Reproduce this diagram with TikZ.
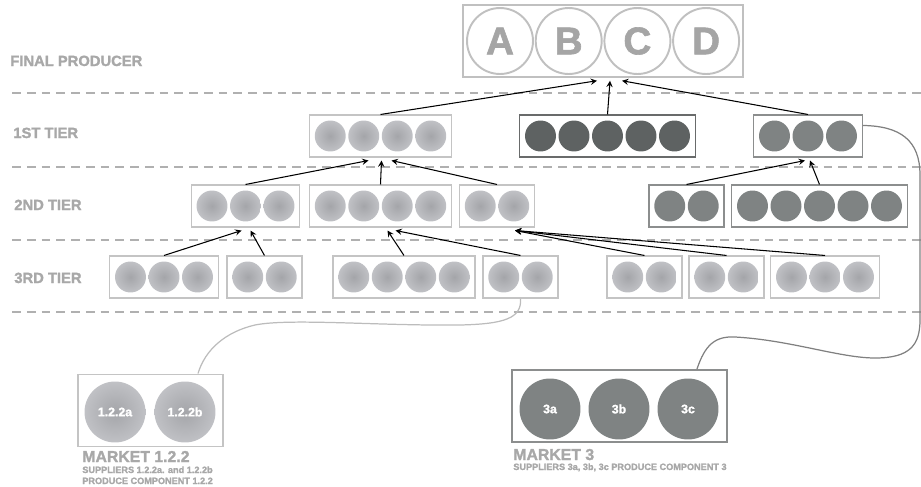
\documentclass[tikz,border=0pt]{standalone}
\usepackage{fontspec}
\setmainfont{Liberation Sans}[BoldFeatures = {FakeBold = 1.6}]
\usetikzlibrary{calc}

\definecolor{rulegray}{RGB}{176,176,176}
\definecolor{labelgray}{RGB}{168,168,168}
\definecolor{framelight}{RGB}{196,196,196}
\definecolor{framemedium}{RGB}{140,142,142}
\definecolor{framedark}{RGB}{105,107,107}
\definecolor{disclightin}{RGB}{164,165,169}
\definecolor{disclightout}{RGB}{192,193,197}
\definecolor{discmedium}{RGB}{127,131,131}
\definecolor{discdark}{RGB}{94,98,98}
\definecolor{finalgray}{RGB}{192,192,192}
\definecolor{lettergray}{RGB}{165,165,165}
\definecolor{linkdark}{RGB}{128,128,128}
\definecolor{linklight}{RGB}{188,188,188}

\tikzset{
    > = stealth,
    feeds/.style = {->, line width = 0.6pt, black},
    tier rule/.style = {draw = rulegray, line width = 0.85pt, dash pattern = on 5pt off 3.4pt},
    tier label/.style = {anchor = base west, inner sep = 0pt, text = labelgray,
        font = \bfseries\fontsize{8.4}{9}\selectfont},
    box/.style = {rectangle, inner sep = 0pt, minimum height = 0.84cm, line width = 0.6pt},
    frame light/.style = {box, draw = framelight},
    frame medium/.style = {box, draw = framemedium},
    frame dark/.style = {box, draw = framedark},
    disc/.style = {circle, inner sep = 0pt, minimum size = 0.62cm},
    disc light/.style = {disc, inner color = disclightin, outer color = disclightout},
    disc medium/.style = {disc, fill = discmedium},
    disc dark/.style = {disc, fill = discdark},
    final disc/.style = {circle, inner sep = 0pt, minimum size = 1.32cm, draw = finalgray,
        line width = 1.1pt, text = lettergray, font = \bfseries\fontsize{22}{22}\selectfont},
    market frame/.style = {rectangle, inner sep = 0pt, minimum width = #1, minimum height = 1.45cm,
        line width = 0.85pt},
    big disc/.style = {circle, inner sep = 0pt, minimum size = 1.22cm, text = white,
        font = \bfseries\fontsize{7}{8}\selectfont},
    market title/.style = {anchor = base west, inner sep = 0pt, text = labelgray,
        font = \bfseries\fontsize{9}{10}\selectfont},
    market note/.style = {anchor = base west, inner sep = 0pt, text = labelgray,
        font = \bfseries\fontsize{5.2}{6}\selectfont},
    link/.style = {line width = 0.7pt}
}

% box with #4 suppliers: name, centre x, centre y, count, shade
\newcommand{\tierbox}[5]{%
    \node[frame #5, minimum width = {#4*0.67cm+0.16cm}] (#1) at (#2,#3) {};
    \foreach \i in {1,...,#4}
        \node[disc #5] (#1-\i) at ({#2+(\i-(#4+1)/2)*33.5},#3) {};
}

\begin{document}
\begin{tikzpicture}[x = 0.02cm, y = -0.02cm]
    \useasboundingbox (0,0) rectangle (921,487);

    % tier rules and labels
    \foreach \y in {93,167,240,312}
        \draw[tier rule] (12,\y) -- (921,\y);
    \node[tier label] (final) at (10,66) {FINAL PRODUCER};
    \node[tier label] (tier1) at (13,138) {1ST TIER};
    \node[tier label] (tier2) at (14,210) {2ND TIER};
    \node[tier label] (tier3) at (14,283) {3RD TIER};

    % final producer
    \node[rectangle, draw = finalgray, line width = 0.85pt, minimum width = 5.6cm,
        minimum height = 1.44cm] (f) at (603,41) {};
    \foreach \l [count = \i] in {A,B,C,D}
        \node[final disc] (f-\i) at ({500+(\i-1)*68.7},41) {\l};

    % suppliers
    \tierbox{p1}{380.5}{136}{4}{light}
    \tierbox{p2}{607.5}{136}{5}{dark}
    \tierbox{p3}{808}{136}{3}{medium}

    \tierbox{s1}{245.5}{206}{3}{light}
    \tierbox{s2}{380.5}{206}{4}{light}
    \tierbox{s3}{497}{206}{2}{light}
    \tierbox{s4}{686.5}{206}{2}{medium}
    \tierbox{s5}{819.5}{206}{5}{medium}

    \tierbox{t1}{164}{277}{3}{light}
    \tierbox{t2}{264.5}{277}{2}{light}
    \tierbox{t3}{404}{277}{4}{light}
    \tierbox{t4}{520.5}{277}{2}{light}
    \tierbox{t5}{644.5}{277}{2}{light}
    \tierbox{t6}{726.5}{277}{2}{light}
    \tierbox{t7}{825}{277}{3}{light}

    % who delivers to whom
    \draw[feeds] (p1.north) -- ($(f.south)+(-6,3)$);
    \draw[feeds] (p2.north) -- ($(f.south)+(7,3)$);
    \draw[feeds] (p3.north) -- ($(f.south)+(19,3)$);

    \draw[feeds] (s1.north) -- ($(p1.south)+(-12,3)$);
    \draw[feeds] (s2.north) -- ($(p1.south)+(1,3)$);
    \draw[feeds] (s3.north) -- ($(p1.south)+(11,3)$);
    \draw[feeds] (s4.north) -- ($(p3.south)+(-3,3)$);
    \draw[feeds] (s5.north) -- ($(p3.south)+(2,3)$);

    \draw[feeds] (t1.north) -- ($(s1.south)+(-4,3)$);
    \draw[feeds] (t2.north) -- ($(s1.south)+(5,3)$);
    \draw[feeds] (t3.north) -- ($(s2.south)+(7,3)$);
    \draw[feeds] (t4.north) -- ($(s2.south)+(15,3)$);
    \draw[feeds] (t5.north) -- ($(s3.south)+(18,3)$);
    \draw[feeds] (t6.north) -- ($(s3.south)+(18,3)$);
    \draw[feeds] (t7.north) -- ($(s3.south)+(18,3)$);

    % market 1.2.2
    \node[market frame = 2.9cm, draw = framelight] (m122) at (150.5,410.5) {};
    \node[big disc, inner color = disclightin, outer color = disclightout] (m122-a) at (115,412) {1.2.2a};
    \node[big disc, inner color = disclightin, outer color = disclightout] (m122-b) at (185,412) {1.2.2b};
    \node[market title] (m122-name) at (82,462) {MARKET 1.2.2};
    \node[market note] (m122-note1) at (82,473) {SUPPLIERS 1.2.2a. and 1.2.2b};
    \node[market note] (m122-note2) at (82,484) {PRODUCE COMPONENT 1.2.2};

    % market 3
    \node[market frame = 4.3cm, draw = framemedium] (m3) at (619.5,406) {};
    \node[big disc, fill = discmedium] (m3-a) at (550,409) {3a};
    \node[big disc, fill = discmedium] (m3-b) at (619,409) {3b};
    \node[big disc, fill = discmedium] (m3-c) at (688,409) {3c};
    \node[market title] (m3-name) at (513,460) {MARKET 3};
    \node[market note] (m3-note) at (513,470) {SUPPLIERS 3a, 3b, 3c PRODUCE COMPONENT 3};

    % market links
    \draw[link, linklight] (t4.south) .. controls (522,318) and (505,324) .. (460,325)
        .. controls (380,326) and (290,318) .. (255,325)
        .. controls (225,332) and (205,350) .. ($(m122.north)+(47.5,0)$);
    \draw[link, linkdark] ($(p3.north east)+(0,11)$) .. controls (900,126) and (920,140) .. (920,175)
        -- (920,320) .. controls (920,345) and (910,358) .. (875,358)
        .. controls (840,358) and (790,340) .. (735,337)
        .. controls (715,336) and (705,345) .. ($(m3.north)+(77.5,0)$);
\end{tikzpicture}
\end{document}
